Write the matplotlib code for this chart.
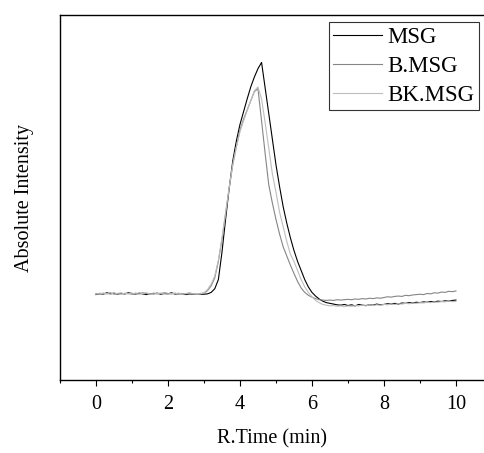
import numpy as np
import matplotlib
matplotlib.use("Agg")
import matplotlib.pyplot as plt
from matplotlib.ticker import MultipleLocator

plt.rcParams['font.family'] = ['Liberation Serif', 'DejaVu Serif']

# retention time grid (min), 0.1 min sampling
time_min = np.arange(101) / 10.0

# absolute intensity (arbitrary units)
msg = [
    23.4, 23.7, 23.5, 23.9, 23.6, 23.8, 23.5, 23.7, 23.6, 23.9,
    23.7, 23.5, 23.8, 23.6, 23.4, 23.7, 23.6, 23.8, 23.5, 23.7,
    23.6, 23.9, 23.5, 23.7, 23.6, 23.4, 23.6, 23.5, 23.7, 23.5,
    23.5, 23.6, 24.0, 25.0, 27.5, 35.0, 44.0, 52.5, 60.0, 65.5,
    70.0, 73.5, 77.0, 80.3, 83.0, 85.3, 87.0, 80.0, 73.0, 66.0,
    59.0, 53.0, 47.5, 43.0, 39.0, 35.5, 32.5, 30.0, 27.5, 25.5,
    24.0, 23.0, 22.2, 21.6, 21.2, 21.0, 20.8, 20.6, 20.5, 20.7,
    20.4, 20.6, 20.3, 20.7, 20.5, 20.4, 20.6, 20.5, 20.8, 20.6,
    20.7, 20.9, 20.8, 21.0, 20.8, 21.1, 21.0, 21.2, 21.1, 21.3,
    21.2, 21.4, 21.3, 21.5, 21.4, 21.6, 21.5, 21.7, 21.6, 21.8,
    21.9,
]
b_msg = [
    23.7, 23.5, 23.8, 23.6, 23.9, 23.5, 23.7, 23.8, 23.6, 23.7,
    23.5, 23.8, 23.6, 23.9, 23.7, 23.5, 23.8, 23.6, 23.7, 23.9,
    23.7, 23.6, 23.8, 23.5, 23.7, 23.6, 23.8, 23.6, 23.5, 23.7,
    23.8, 24.5, 25.8, 28.0, 32.5, 38.5, 45.5, 52.5, 59.0, 64.0,
    68.5, 71.5, 74.0, 76.5, 79.0, 79.8, 71.0, 62.0, 53.5, 48.5,
    44.0, 40.0, 36.5, 34.0, 31.5, 29.2, 27.0, 25.2, 24.0, 23.2,
    22.7, 22.3, 22.0, 21.9, 21.8, 21.9, 21.8, 22.0, 21.9, 22.0,
    22.1, 22.0, 22.2, 22.1, 22.3, 22.2, 22.4, 22.3, 22.5, 22.4,
    22.6, 22.8, 22.7, 22.9, 23.0, 22.9, 23.2, 23.1, 23.3, 23.4,
    23.5, 23.4, 23.7, 23.6, 23.9, 23.8, 24.1, 24.0, 24.3, 24.2,
    24.4,
]
bk_msg = [
    23.5, 23.8, 23.6, 23.7, 23.5, 23.9, 23.6, 23.5, 23.8, 23.6,
    23.8, 23.6, 23.5, 23.7, 23.9, 23.6, 23.5, 23.7, 23.8, 23.6,
    23.5, 23.7, 23.6, 23.8, 23.5, 23.7, 23.9, 23.6, 23.7, 23.6,
    23.9, 24.8, 26.3, 28.5, 32.8, 38.8, 45.8, 52.8, 59.0, 63.8,
    68.0, 71.0, 73.8, 76.5, 79.2, 80.3, 77.0, 70.5, 63.5, 56.5,
    51.5, 46.0, 42.0, 38.0, 34.5, 32.5, 30.0, 27.5, 25.5, 24.0,
    22.8, 21.8, 21.2, 20.7, 20.5, 20.3, 20.4, 20.2, 20.3, 20.1,
    20.3, 20.2, 20.4, 20.3, 20.5, 20.3, 20.6, 20.4, 20.6, 20.5,
    20.7, 20.6, 20.8, 20.7, 20.9, 20.8, 21.0, 20.9, 21.1, 21.0,
    21.2, 21.1, 21.3, 21.2, 21.4, 21.3, 21.5, 21.4, 21.6, 21.5,
    21.5,
]

series = [('MSG', msg, '#000000'),
          ('B.MSG', b_msg, '#858585'),
          ('BK.MSG', bk_msg, '#bdbdbd')]

fig = plt.figure(figsize=(4.84, 4.53), dpi=100)
ax = fig.add_axes([60 / 484, 73 / 453, 424 / 484, 365 / 453])

for name, vals, col in series:
    ax.plot(time_min, vals, color=col, linewidth=0.8, label=name)

ax.set_xlim(-1, 10.78)
ax.set_ylim(0, 100)
ax.xaxis.set_major_locator(MultipleLocator(2))
ax.xaxis.set_minor_locator(MultipleLocator(1))
ax.set_yticks([])
ax.spines['right'].set_visible(False)
for s in ['left', 'top', 'bottom']:
    ax.spines[s].set_linewidth(1.0)
ax.tick_params(axis='x', which='major', direction='out', length=4.5, width=0.8,
               labelsize=14.5, pad=6)
ax.tick_params(axis='x', which='minor', direction='out', length=2.5, width=0.8)

ax.set_xlabel('R.Time (min)', fontsize=14.5, labelpad=11)
ax.set_ylabel('Absolute Intensity', fontsize=14.5, labelpad=19)

leg = ax.legend(loc='upper right', bbox_to_anchor=(0.988, 0.981), borderaxespad=0,
                fontsize=16.5, frameon=True, fancybox=False, handlelength=2.1,
                handletextpad=0.25, labelspacing=0.35, borderpad=0.2)
leg.get_frame().set_edgecolor('black')
leg.get_frame().set_linewidth(0.8)

fig.savefig('out.png', dpi=100)
